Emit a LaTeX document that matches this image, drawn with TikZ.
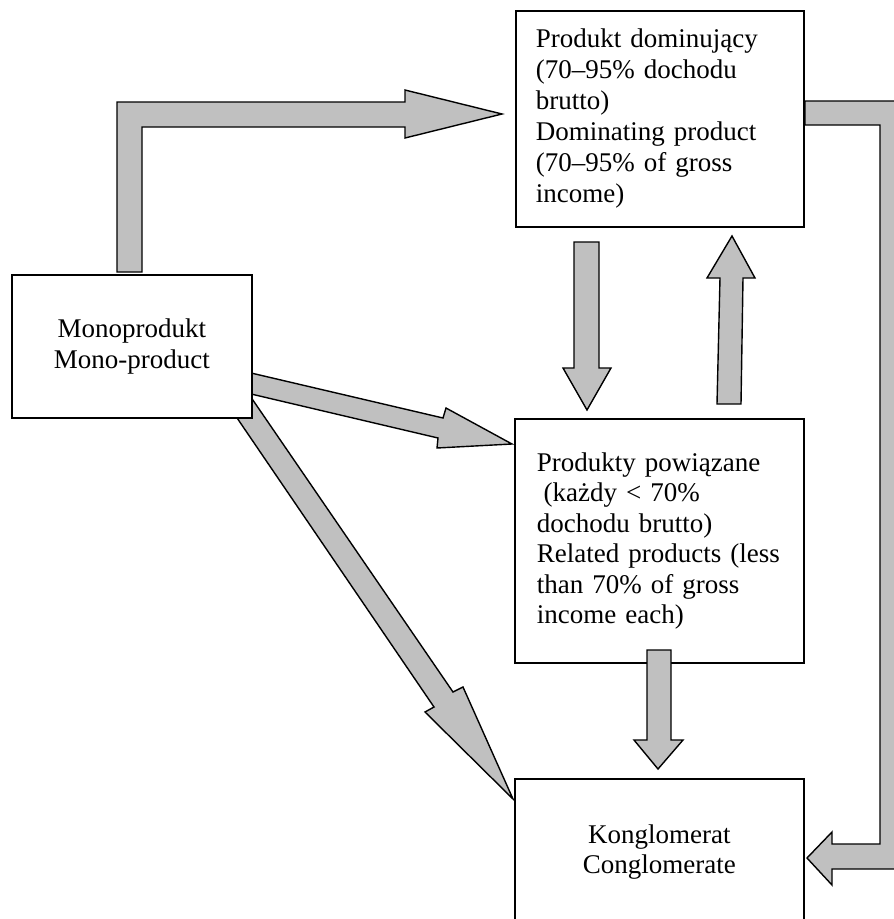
\documentclass[tikz,border=0pt]{standalone}
\usepackage{fontspec}
\setmainfont{Liberation Serif}
\definecolor{arrowgray}{RGB}{192,192,192}
\begin{document}
\begin{tikzpicture}[x=1pt,y=-1pt,
  box/.style={draw, line width=1.8pt, fill=white, inner sep=0pt, anchor=north west,
    font=\fontsize{27}{30.5}\selectfont},
  blockarrow/.style={draw, line width=1.4pt, fill=arrowgray, line join=miter}]
\useasboundingbox (0,0) rectangle (894,919);
\clip (0,0) rectangle (894,919);

% arrows leaving the mono-product box (drawn beneath the boxes)
\draw[blockarrow] (240,370.4) -- (443,418) -- (446,408) -- (512,444) -- (437,448)
  -- (438,438) -- (240,391.4) -- cycle;
\draw[blockarrow] (218,390) -- (246,390) -- (453,692) -- (463,687) -- (513,799)
  -- (425,712) -- (434,707) -- cycle;

% boxes
\node[box, minimum width=288pt, minimum height=216pt, text width=248pt, align=left,
  font=\fontsize{27}{31}\selectfont]
  (dom) at (515,10) {Produkt dominujący\\(70–95\% dochodu\\brutto)\\Dominating product\\(70–95\% of gross\\income)};
\node[box, minimum width=289pt, minimum height=244pt, text width=245pt, align=left]
  (rel) at (514,418) {Produkty powiązane\\\hspace*{0.25em}(każdy < 70\%\\dochodu brutto)\\Related products (less\\than 70\% of gross\\income each)};
\node[box, minimum width=240pt, minimum height=143pt, align=center]
  (mono) at (11,274) {Monoprodukt\\Mono-product};
\node[box, minimum width=289pt, minimum height=146pt, align=center]
  (cong) at (514,778) {Konglomerat\\Conglomerate};

% elbow arrow: mono-product up and over to the dominating product
\draw[blockarrow] (117,272) -- (117,102) -- (405,102) -- (405,90) -- (502,114)
  -- (405,138) -- (405,127) -- (142,127) -- (142,272) -- cycle;

% dominating product <-> related products
\draw[blockarrow] (574,242) -- (599,242) -- (599,368) -- (611,368) -- (587,410)
  -- (563,368) -- (574,368) -- cycle;
\draw[blockarrow] (717,404) -- (720,278) -- (707,278) -- (732,236) -- (755,278)
  -- (743,278) -- (741,404) -- cycle;

% related products down to the conglomerate
\draw[blockarrow] (647,650) -- (671,650) -- (671,740) -- (683,740) -- (658,769)
  -- (634,740) -- (647,740) -- cycle;

% elbow arrow: dominating product round the right side to the conglomerate
\draw[blockarrow] (805,101) -- (910,101) -- (910,869) -- (832,869) -- (832,885)
  -- (807,858) -- (832,832) -- (832,844) -- (880,844) -- (880,125) -- (805,125) -- cycle;
\end{tikzpicture}
\end{document}
